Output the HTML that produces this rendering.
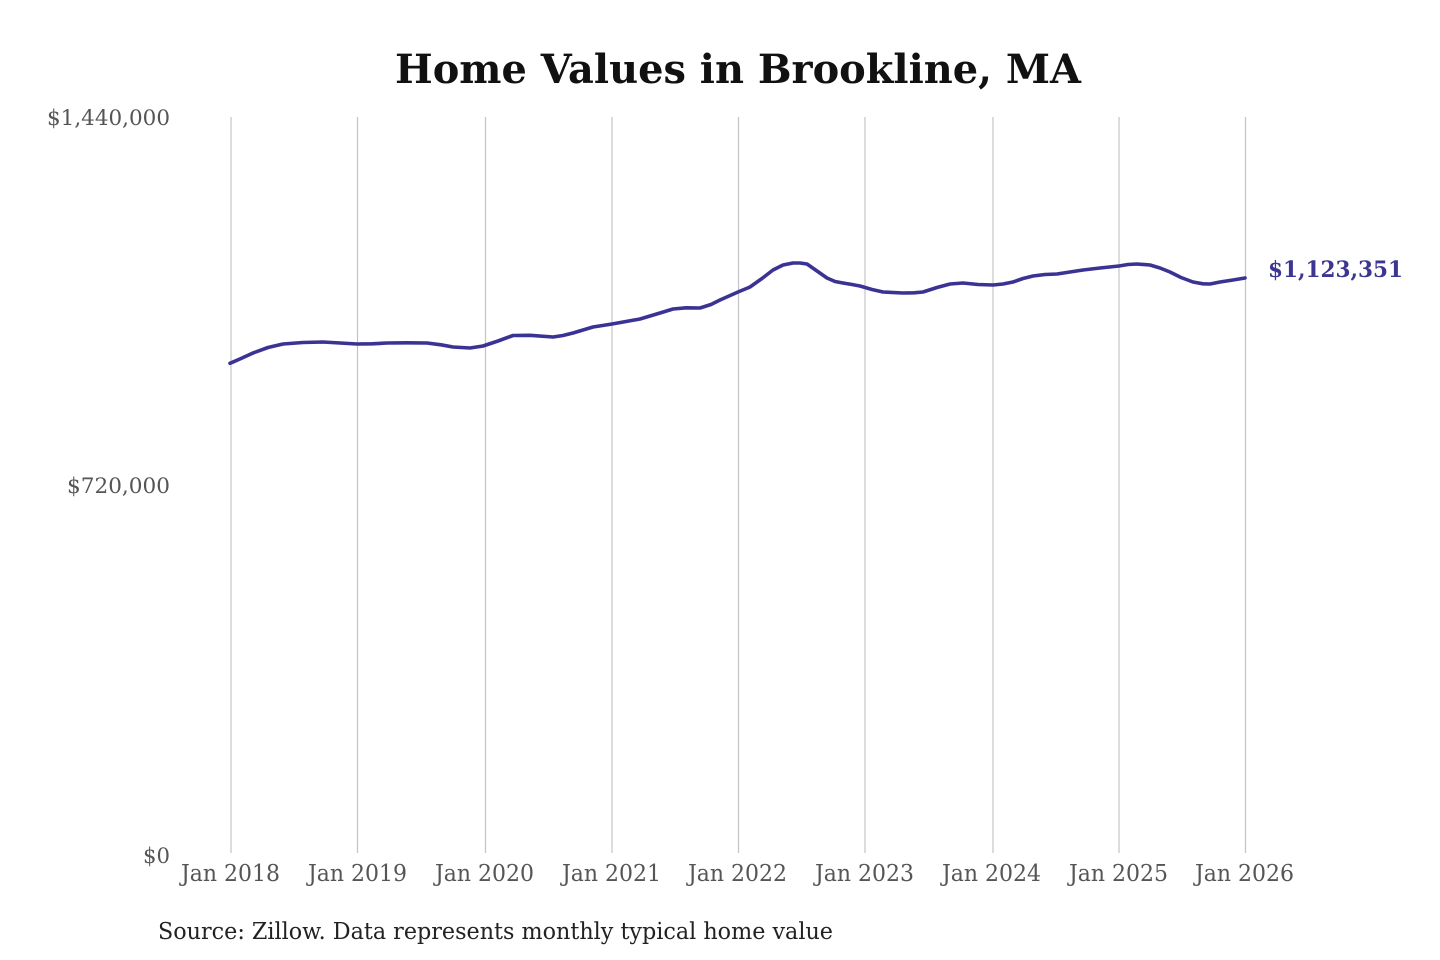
<!DOCTYPE html>
<html>
<head>
<meta charset="utf-8">
<style>
  html, body { margin: 0; padding: 0; background: #ffffff; }
  body { width: 1440px; height: 960px; overflow: hidden; }
  svg { display: block; }
  .tick { font-family: "DejaVu Serif", "Liberation Serif", serif; font-size: 23px; fill: #555555; }
  .ylab { font-family: "DejaVu Serif", "Liberation Serif", serif; font-size: 21px; fill: #555555; }
</style>
</head>
<body>
<svg width="1440" height="960" viewBox="0 0 1440 960" xmlns="http://www.w3.org/2000/svg">
  <rect x="0" y="0" width="1440" height="960" fill="#ffffff"/>

  <!-- Title -->
  <text x="395" y="83" font-family="DejaVu Serif, Liberation Serif, serif" font-weight="bold" font-size="40" fill="#111111" textLength="686" lengthAdjust="spacingAndGlyphs">Home Values in Brookline, MA</text>

  <!-- Gridlines -->
  <g stroke="#c4c4c4" stroke-width="1.2">
    <line x1="231" y1="117" x2="231" y2="853"/>
    <line x1="357.5" y1="117" x2="357.5" y2="853"/>
    <line x1="485.5" y1="117" x2="485.5" y2="853"/>
    <line x1="612" y1="117" x2="612" y2="853"/>
    <line x1="738.5" y1="117" x2="738.5" y2="853"/>
    <line x1="865" y1="117" x2="865" y2="853"/>
    <line x1="993" y1="117" x2="993" y2="853"/>
    <line x1="1119" y1="117" x2="1119" y2="853"/>
    <line x1="1245.5" y1="117" x2="1245.5" y2="853"/>
  </g>

  <!-- Y axis labels -->
  <text class="ylab" x="170" y="125" text-anchor="end" textLength="123" lengthAdjust="spacingAndGlyphs">$1,440,000</text>
  <text class="ylab" x="170" y="493" text-anchor="end" textLength="103" lengthAdjust="spacingAndGlyphs">$720,000</text>
  <text class="ylab" x="170" y="863" text-anchor="end" textLength="27" lengthAdjust="spacingAndGlyphs">$0</text>

  <!-- X axis labels -->
  <text class="tick" x="181" y="881" textLength="99" lengthAdjust="spacingAndGlyphs">Jan 2018</text>
  <text class="tick" x="308" y="881" textLength="99" lengthAdjust="spacingAndGlyphs">Jan 2019</text>
  <text class="tick" x="435" y="881" textLength="99" lengthAdjust="spacingAndGlyphs">Jan 2020</text>
  <text class="tick" x="562" y="881" textLength="99" lengthAdjust="spacingAndGlyphs">Jan 2021</text>
  <text class="tick" x="688" y="881" textLength="99" lengthAdjust="spacingAndGlyphs">Jan 2022</text>
  <text class="tick" x="815" y="881" textLength="99" lengthAdjust="spacingAndGlyphs">Jan 2023</text>
  <text class="tick" x="942" y="881" textLength="99" lengthAdjust="spacingAndGlyphs">Jan 2024</text>
  <text class="tick" x="1069" y="881" textLength="99" lengthAdjust="spacingAndGlyphs">Jan 2025</text>
  <text class="tick" x="1195" y="881" textLength="99" lengthAdjust="spacingAndGlyphs">Jan 2026</text>

  <!-- Data line -->
  <polyline fill="none" stroke="#3a3393" stroke-width="3.6" stroke-linejoin="round" stroke-linecap="round"
    points="230,363.3 241,358.5 253,353 268,347.5 283,344 303,342.5 323,342 340,343 357,344 372,343.8 387,343 407,342.8 427,343 441,344.8 453,347 470,348 483,346 498,341 513,335.5 530,335.3 553,337 563,335.5 573,333 593,327 612,324 626,321.5 640,319 650,316 660,313 673,309 686,307.8 700,308 711,304.5 720,300 738,292 750,287 762,278.5 773,270 783,265 793,263 800,263 807,264 817,271 827,278 835,281.5 843,283 852,284.5 860,286 872,289.5 883,292 903,293 914,292.8 923,292 937,287.5 950,284 963,283 978,284.5 993,285 1003,284 1013,282 1023,278.5 1033,276 1045,274.5 1057,274 1070,272 1083,270 1100,268 1119,266 1128,264.5 1137,264 1150,265 1160,268 1170,272 1181,277.5 1193,282 1203,283.8 1210,284 1220,282 1233,280 1245,278"/>

  <!-- End label -->
  <text x="1268" y="277" font-family="DejaVu Serif, Liberation Serif, serif" font-weight="bold" font-size="22" fill="#3d3592" textLength="135" lengthAdjust="spacingAndGlyphs">$1,123,351</text>

  <!-- Source -->
  <text x="158" y="939" font-family="DejaVu Serif, Liberation Serif, serif" font-size="23" fill="#222222" textLength="675" lengthAdjust="spacingAndGlyphs">Source: Zillow. Data represents monthly typical home value</text>
</svg>
</body>
</html>
